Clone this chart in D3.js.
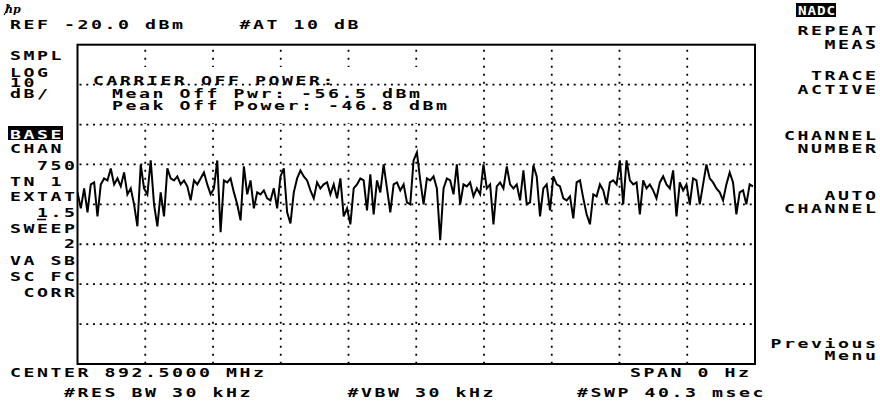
<!DOCTYPE html>
<html>
<head>
<meta charset="utf-8">
<script src="https://cdn.jsdelivr.net/npm/d3@7/dist/d3.min.js"></script>
<style>
  body { margin: 0; background: #fff; }
  svg { display: block; }
  text { font-family: "DejaVu Sans Mono", monospace; font-weight: bold; font-size: 13px; white-space: pre; }
</style>
</head>
<body>
<div id="chart"></div>
<script>
// zero span trace, dBm left to right
var traceDbm = [
  -57,-61,-56,-62,-55,-54.5,-63,-55,-53.5,-54,-51,-55,-53.5,-55.5,-52,-57.5,-56,-60,-65.5,-50,
  -56,-57.5,-49,-60,-65.5,-57,-63,-51,-53.5,-54,-53,-55,-54,-55.5,-59,-54,-55,-53.5,-52,-55,
  -57.5,-56,-49,-67,-54,-54.5,-53.5,-57,-60,-64,-50.5,-57.5,
  -54,-61,-57,-57.5,-56.5,-58.5,-59,-56,-61,-53,-51,-62,-64.8,-57,-53.5,-51.5,-53,-54,-56.5,-58.5,
  -54.5,-56,-55,-54.5,-57.5,-55,-58.5,-53.5,-63,-61,-65,-56,-55,-53.5,-54,-61.5,-52.5,-62.5,-54,-57,
  -50,-56,-62,-55,-54.5,-56.5,-55,-59.5,-60,-49,-47,
  -54,-60,-53.5,-54,-53,-56,-69,-56,-53.5,-54,-57.5,-50,-60,-55,-55.5,-54.5,-58,-56,-57.5,-50,
  -56,-55,-65,-55.5,-54.5,-56,-50.5,-55,-56,-55,-59,-51.5,-60,-59.5,-50.2,-53,-63,-56,-55,-61.5,
  -53,-55,-55.5,-58.5,-59,-58,-63.5,-54.5,-54,-58.5,-62.5,
  -65,-57.5,-58,-55,-56.5,-60,-54.5,-54,-55,-49,-60,-49,-54,-55,-54.5,-62.5,-54,-56,-55,-56.5,
  -58.5,-54.5,-53,-55,-56,-51.5,-63,-54.5,-56.5,-55,-60,-53.5,-54,-60,-55,-50,-53.5,-54.5,-56,-57,
  -59,-55,-52,-54.5,-62.5,-57,-56.5,-60,-55,-55.5
];

var refLevel = -20, dbPerDiv = 10, nDivY = 8, nDivX = 10;

var headerRef = "REF -20.0 dBm", headerAtten = "#AT 10 dB";
var leftScale = ["SMPL", "LOG", "10", "dB/"];
var leftStatus = ["BASE", "CHAN", "750", "TN 1", "EXTAT", "1.5", "SWEEP", "2", "VA SB", "SC FC", "CORR"];
var resultTitle = "CARRIER OFF POWER:";
var resultLines = ["Mean Off Pwr: -56.5 dBm", "Peak Off Power: -46.8 dBm"];
var modeTag = "NADC";
var softkeys = [["REPEAT", "MEAS"], ["TRACE", "ACTIVE"], ["CHANNEL", "NUMBER"], ["AUTO", "CHANNEL"], ["Previous", "Menu"]];
var footCenter = "CENTER 892.5000 MHz", footSpan = "SPAN 0 Hz";
var footRbw = "#RES BW 30 kHz", footVbw = "#VBW 30 kHz", footSwp = "#SWP 40.3 msec";

var width = 880, height = 404;
var P = 13.5, SX = 1.4;   // character pitch, horizontal stretch of the glyphs

var svg = d3.select("#chart").append("svg")
  .attr("width", width)
  .attr("height", height);

var x = d3.scaleLinear().domain([0, nDivX]).range([77.5, 755]);
var y = d3.scaleLinear().domain([refLevel - nDivY * dbPerDiv, refLevel]).range([364, 44.7]);
var xi = d3.scaleLinear().domain([0, traceDbm.length - 1]).range([77.5, 753]);

// graticule
var vLines = d3.range(1, nDivX);
var hLines = d3.range(1, nDivY).map(function(i){ return refLevel - i * dbPerDiv; });

svg.append("g").selectAll("line")
  .data(vLines).enter().append("line")
  .attr("x1", function(d){ return x(d); })
  .attr("x2", function(d){ return x(d); })
  .attr("y1", y(refLevel) + 5)
  .attr("y2", y(refLevel - nDivY * dbPerDiv))
  .attr("stroke", "#000")
  .attr("stroke-width", 1.8)
  .attr("stroke-dasharray", "2,6");

// result box blanks the grid behind the readout
svg.append("rect")
  .attr("x", 79).attr("y", 67)
  .attr("width", 376).attr("height", 56)
  .attr("fill", "#fff");

svg.append("g").selectAll("line")
  .data(hLines).enter().append("line")
  .attr("x1", x(0) + 2)
  .attr("x2", x(nDivX))
  .attr("y1", function(d){ return y(d); })
  .attr("y2", function(d){ return y(d); })
  .attr("stroke", "#000")
  .attr("stroke-width", 1.8)
  .attr("stroke-dasharray", "2,4.77");

svg.append("rect")
  .attr("x", x(0)).attr("y", y(refLevel))
  .attr("width", x(nDivX) - x(0))
  .attr("height", y(refLevel - nDivY * dbPerDiv) - y(refLevel))
  .attr("fill", "none")
  .attr("stroke", "#000")
  .attr("stroke-width", 2);

svg.append("clipPath").attr("id", "clip")
  .append("rect")
  .attr("x", x(0)).attr("y", y(refLevel))
  .attr("width", x(nDivX) - x(0))
  .attr("height", y(refLevel - nDivY * dbPerDiv) - y(refLevel));

var line = d3.line()
  .x(function(d, i){ return xi(i); })
  .y(function(d){ return y(d); });

svg.append("path")
  .datum(traceDbm)
  .attr("clip-path", "url(#clip)")
  .attr("d", line)
  .attr("fill", "none")
  .attr("stroke", "#000")
  .attr("stroke-width", 2)
  .attr("stroke-linejoin", "miter");

// text on a fixed character grid
function txt(s, x0, y0, fill, pitch, sx){
  pitch = pitch || P; sx = sx || SX;
  var xs = s.split("").map(function(c, i){ return (i * pitch / sx).toFixed(2); }).join(" ");
  return svg.append("text")
    .attr("transform", "translate(" + x0 + "," + y0 + ") scale(" + sx + ",1)")
    .attr("x", xs).attr("y", 0)
    .attr("fill", fill || "#000")
    .text(s);
}
function col(c){ return 10 + c * P; }
function txtEnd(s, xEnd, y0){ return txt(s, xEnd - 9 - (s.length - 1) * P, y0); }

// logo
svg.append("text")
  .attr("x", 5).attr("y", 13)
  .style("font-family", "DejaVu Serif")
  .style("font-style", "italic")
  .style("font-size", "11px")
  .text("hp");
svg.append("line")
  .attr("x1", 4).attr("y1", 15).attr("x2", 10).attr("y2", 5)
  .attr("stroke", "#000").attr("stroke-width", 1.2);

txt(headerRef, col(0), 28.5);
txt(headerAtten, col(17), 28.5);

var leftScaleY = [59.5, 77, 87, 97.5];
leftScale.forEach(function(s, i){ txt(s, col(0), leftScaleY[i]); });

svg.append("rect").attr("x", 8).attr("y", 126).attr("width", 55).attr("height", 14).attr("fill", "#000");
var statusY = [138.5, 153, 170, 186, 201, 217, 233, 248, 265, 280.5, 297];
var statusAlign = "LLRLLRLRLLR";
leftStatus.forEach(function(s, i){
  var x0 = statusAlign[i] == "R" ? col(5 - s.length) : col(0);
  txt(s, x0, statusY[i], i == 0 ? "#fff" : "#000");
});
svg.append("line")
  .attr("x1", col(2)).attr("x2", col(2) + 9)
  .attr("y1", 219.5).attr("y2", 219.5)
  .attr("stroke", "#000").attr("stroke-width", 1.5);

txt(resultTitle, 93, 85);
txt(resultLines[0], 112, 97.5);
txt(resultLines[1], 112, 109.5);

svg.append("rect").attr("x", 796).attr("y", 3).attr("width", 40).attr("height", 14).attr("fill", "#000");
txt(modeTag, 798, 15, "#fff", 9.5, 1.1);

var softY = [[35, 48.5], [80, 93.5], [140, 153], [200, 213], [348, 360]];
softkeys.forEach(function(k, i){
  txtEnd(k[0], 874, softY[i][0]);
  txtEnd(k[1], 874, softY[i][1]);
});

txt(footCenter, col(0), 377);
txtEnd(footSpan, 747, 377);
txt(footRbw, col(4), 396.5);
txt(footVbw, col(25), 396.5);
txt(footSwp, col(42), 396.5);
</script>
</body>
</html>
